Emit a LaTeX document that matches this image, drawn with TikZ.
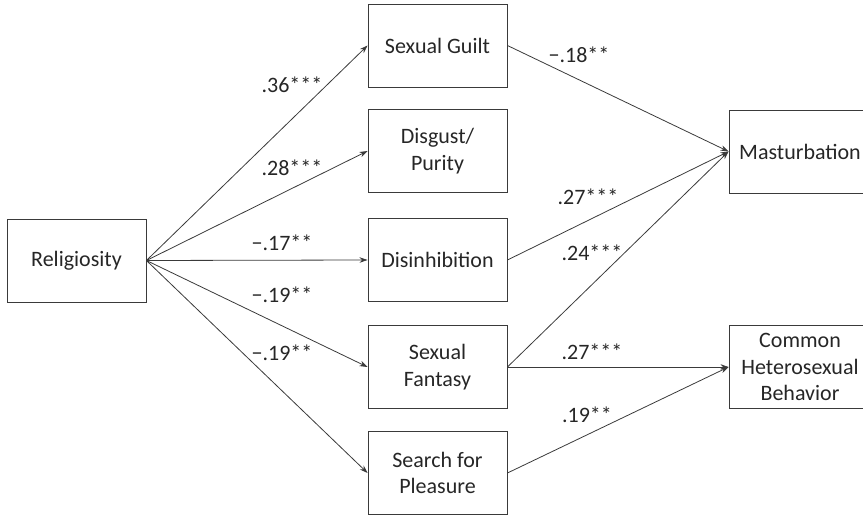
\documentclass[tikz,border=0pt]{standalone}
\usepackage{fontspec}
\setmainfont{Carlito}
\usetikzlibrary{arrows.meta}
\definecolor{linec}{HTML}{3A3A3A}
\definecolor{textc}{HTML}{262626}
\begin{document}
\begin{tikzpicture}[x=1pt,y=-1pt,
  box/.style={draw=linec, line width=0.9pt, minimum width=139pt, minimum height=83pt,
    align=center, text=textc, font=\fontsize{22}{26.5}\selectfont, inner sep=0pt},
  rbox/.style={box, minimum width=142pt},
  lab/.style={text=textc, font=\fontsize{22}{26.5}\selectfont, inner sep=0pt},
  arr/.style={draw=linec, line width=0.8pt, -{Stealth[length=8pt,width=5.5pt]}}]
\clip (0,0) rectangle (863,516);
\useasboundingbox (0,0) rectangle (863,516);
% nodes
\node[box] (rel) at (76.5,260.5) {Religiosity};
\node[box] (sg) at (437.5,45.5) {Sexual Guilt};
\node[box] (dp) at (437.5,151) {Disgust/\\Purity};
\node[box] (di) at (437.5,260) {Disinhibition};
\node[box] (sf) at (437.5,367) {Sexual\\Fantasy};
\node[box] (sp) at (437.5,473) {Search for\\Pleasure};
\node[rbox] (ma) at (800,151.5) {Masturbation};
\node[rbox] (ch) at (800,367) {Common\\Heterosexual\\Behavior};
% connectors
\draw[arr] (rel.east) -- (sg.west);
\draw[arr] (rel.east) -- (dp.west);
\draw[arr] (rel.east) -- (di.west);
\draw[arr] (rel.east) -- (sf.west);
\draw[arr] (rel.east) -- (sp.west);
\draw[arr] (sg.east) -- (ma.west);
\draw[arr] (di.east) -- (ma.west);
\draw[arr] (sf.east) -- (ma.west);
\draw[arr] (sf.east) -- (ch.west);
\draw[arr] (sp.east) -- (ch.west);
% labels
\node[lab] (l1) at (292,85) {.36***};
\node[lab] (l2) at (292,168) {.28***};
\node[lab] (l3) at (282,243) {−.17**};
\node[lab] (l4) at (282,295) {−.19**};
\node[lab] (l5) at (282,353) {−.19**};
\node[lab] (l6) at (579,55) {−.18**};
\node[lab] (l7) at (588,197) {.27***};
\node[lab] (l8) at (592,253) {.24***};
\node[lab] (l9) at (592,352) {.27***};
\node[lab] (l10) at (587,415) {.19**};
\end{tikzpicture}
\end{document}
